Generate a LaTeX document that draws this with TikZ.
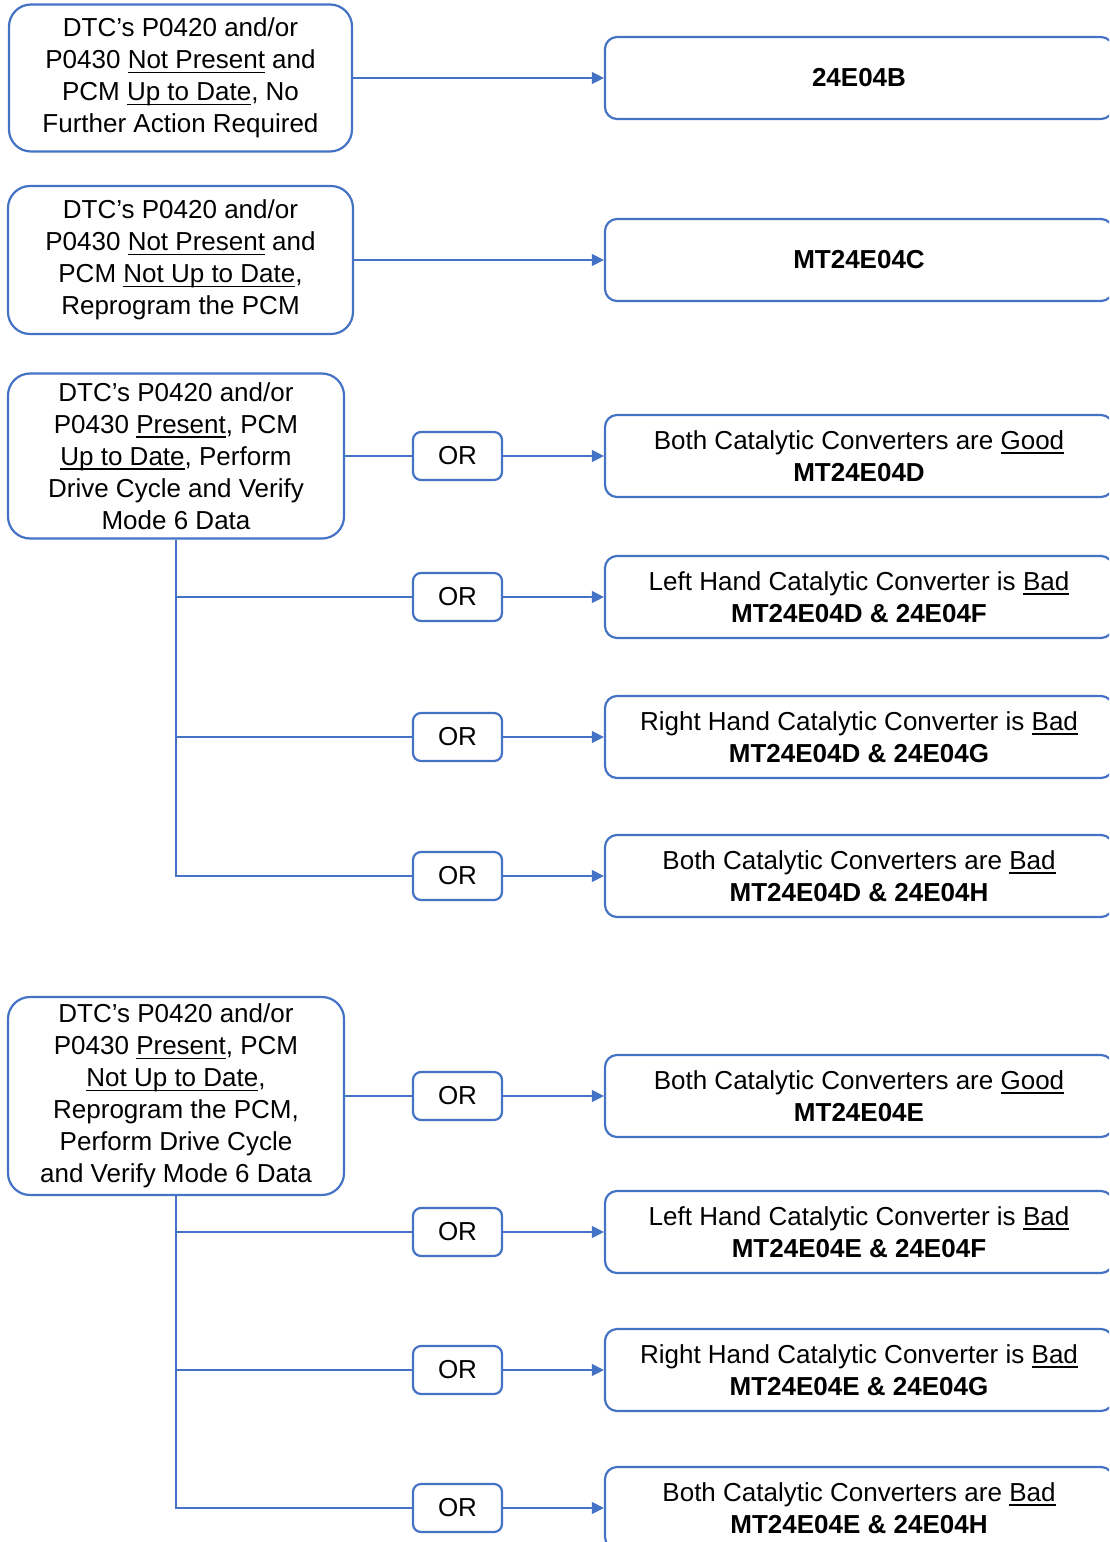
\documentclass[tikz,border=0pt]{standalone}
\usepackage{fontspec}
\setmainfont{Liberation Sans}
\usepackage{tikz}
\usepackage{xcolor}
\usetikzlibrary{arrows.meta}
\definecolor{ofblue}{HTML}{4472C4}
\newcommand{\undl}[1]{\setbox0\hbox{#1}\rlap{\rule[-2.2pt]{\wd0}{0.8pt}}\box0\relax}

\begin{document}
\begin{tikzpicture}[x=0.5pt,y=-0.5pt,
    every node/.style={font=\fontsize{13}{16}\selectfont, align=center, inner sep=0pt},
    lbox/.style={draw=ofblue, line width=1.1pt, rounded corners=11pt},
    rbox/.style={draw=ofblue, line width=1.1pt, rounded corners=6pt, minimum width=254pt, minimum height=41pt},
    orbox/.style={draw=ofblue, line width=1.1pt, rounded corners=4pt, minimum width=44.5pt, minimum height=24pt},
    conn/.style={draw=ofblue, line width=0.6pt},
    arr/.style={conn, -{Triangle[length=6pt,width=6pt]}}]
      \useasboundingbox (0,0) rectangle (1109,1542);
      \clip (0,0) rectangle (1109,1542);
      % left column
      \node [lbox, minimum width=171.5pt, minimum height=73.5pt] (L1) at (180.5,78) {DTC’s P0420 and/or\\P0430 \undl{Not Present} and\\PCM \undl{Up to Date}, No\\Further Action Required};
      \node [lbox, minimum width=172.5pt, minimum height=74pt] (L2) at (180.5,260) {DTC’s P0420 and/or\\P0430 \undl{Not Present} and\\PCM \undl{Not Up to Date},\\Reprogram the PCM};
      \node [lbox, minimum width=168pt, minimum height=82.5pt] (L3) at (176,456) {DTC’s P0420 and/or\\P0430 \undl{Present}, PCM\\\undl{Up to Date}, Perform\\Drive Cycle and Verify\\Mode 6 Data};
      \node [lbox, minimum width=168pt, minimum height=99pt] (L4) at (176,1096) {DTC’s P0420 and/or\\P0430 \undl{Present}, PCM\\\undl{Not Up to Date},\\Reprogram the PCM,\\Perform Drive Cycle\\and Verify Mode 6 Data};
      % OR boxes
      \node [orbox] (O1) at (457.5,456) {OR};
      \node [orbox] (O2) at (457.5,597) {OR};
      \node [orbox] (O3) at (457.5,737) {OR};
      \node [orbox] (O4) at (457.5,876) {OR};
      \node [orbox] (O5) at (457.5,1096) {OR};
      \node [orbox] (O6) at (457.5,1232) {OR};
      \node [orbox] (O7) at (457.5,1370) {OR};
      \node [orbox] (O8) at (457.5,1508) {OR};
      % right column
      \node [rbox] (R1) at (859,78) {\textbf{24E04B}};
      \node [rbox] (R2) at (859,260) {\textbf{MT24E04C}};
      \node [rbox] (R3) at (859,456) {Both Catalytic Converters are \undl{Good}\\\textbf{MT24E04D}};
      \node [rbox] (R4) at (859,597) {Left Hand Catalytic Converter is \undl{Bad}\\\textbf{MT24E04D \& 24E04F}};
      \node [rbox] (R5) at (859,737) {Right Hand Catalytic Converter is \undl{Bad}\\\textbf{MT24E04D \& 24E04G}};
      \node [rbox] (R6) at (859,876) {Both Catalytic Converters are \undl{Bad}\\\textbf{MT24E04D \& 24E04H}};
      \node [rbox] (R7) at (859,1096) {Both Catalytic Converters are \undl{Good}\\\textbf{MT24E04E}};
      \node [rbox] (R8) at (859,1232) {Left Hand Catalytic Converter is \undl{Bad}\\\textbf{MT24E04E \& 24E04F}};
      \node [rbox] (R9) at (859,1370) {Right Hand Catalytic Converter is \undl{Bad}\\\textbf{MT24E04E \& 24E04G}};
      \node [rbox] (R10) at (859,1508) {Both Catalytic Converters are \undl{Bad}\\\textbf{MT24E04E \& 24E04H}};
      % connectors
      \draw [arr] (L1) -- (R1);
      \draw [arr] (L2) -- (R2);
      \draw [conn] (L3) -- (O1);
      \draw [conn] (L3.south) |- (O2);
      \draw [conn] (L3.south) |- (O3);
      \draw [conn] (L3.south) |- (O4);
      \draw [conn] (L4) -- (O5);
      \draw [conn] (L4.south) |- (O6);
      \draw [conn] (L4.south) |- (O7);
      \draw [conn] (L4.south) |- (O8);
      \draw [arr] (O1) -- (R3);
      \draw [arr] (O2) -- (R4);
      \draw [arr] (O3) -- (R5);
      \draw [arr] (O4) -- (R6);
      \draw [arr] (O5) -- (R7);
      \draw [arr] (O6) -- (R8);
      \draw [arr] (O7) -- (R9);
      \draw [arr] (O8) -- (R10);
    \end{tikzpicture}
\end{document}
